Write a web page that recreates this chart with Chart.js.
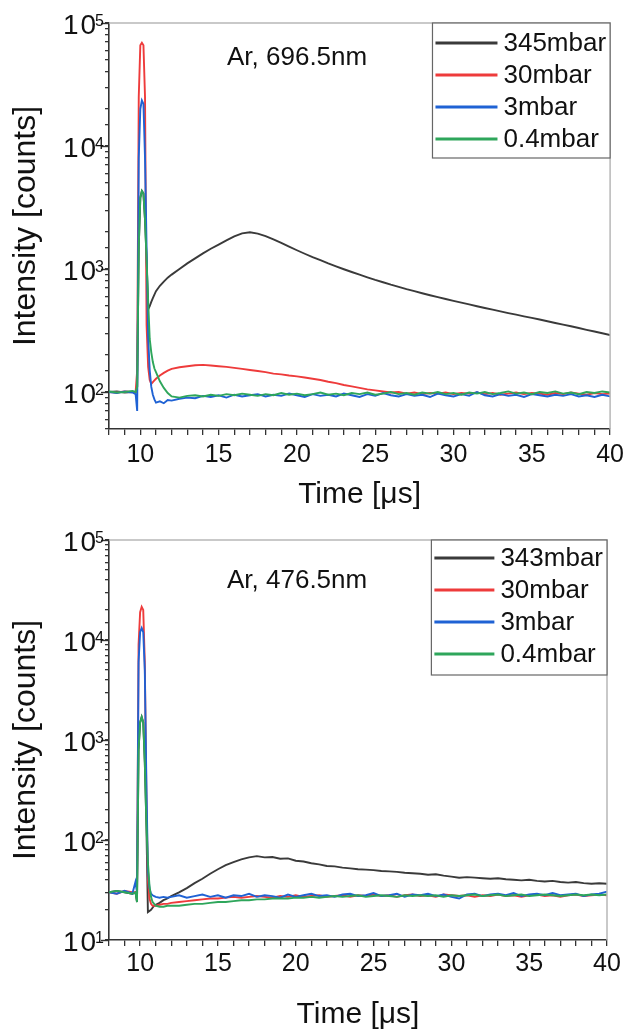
<!DOCTYPE html>
<html>
<head>
<meta charset="utf-8">
<title>Ar line intensity vs time</title>
<script src="https://cdn.jsdelivr.net/npm/chart.js@4.4.1/dist/chart.umd.min.js"></script>
<style>
  html, body { margin: 0; padding: 0; background: #fff; }
  body { width: 629px; height: 1031px; position: relative; overflow: hidden; }
  canvas { position: absolute; left: 0; }
  #top { top: 0; }
  #bottom { top: 515px; }
</style>
</head>
<body>
<canvas id="top" width="629" height="515"></canvas>
<canvas id="bottom" width="629" height="516"></canvas>
<script>
const FONT = "'Liberation Sans', Arial, Helvetica, sans-serif";
const INK = '#333333';

// time axis, in microseconds (shared by both panels)
const times = [8, 8.5, 9, 9.5, 9.7, 9.8, 9.9, 10, 10.1, 10.2, 10.3, 10.4, 10.5, 10.6, 10.7, 10.8, 10.9, 11, 11.25, 11.5, 11.75,
  12, 12.5, 13, 13.5, 14, 14.5, 15, 15.5, 16, 16.5, 17, 17.5, 18, 18.5, 19, 19.5, 20, 20.5, 21, 21.5,
  22, 22.5, 23, 23.5, 24, 24.5, 25, 25.5, 26, 26.5, 27, 27.5, 28, 28.5, 29, 29.5, 30, 30.5, 31, 31.5,
  32, 32.5, 33, 33.5, 34, 34.5, 35, 35.5, 36, 36.5, 37, 37.5, 38, 38.5, 39, 39.5, 40];

// upper panel: Ar 696.5 nm
const top345 = [100, 101, 99, 100, 100, 110, 1500, 3800, 4300, 4100, 2500, 1200, 470, 500, 540, 580, 620, 660, 730, 790, 850,
  900, 1000, 1110, 1220, 1340, 1460, 1580, 1710, 1840, 1950, 1990, 1940, 1850, 1740, 1630, 1520, 1420, 1330, 1250, 1180,
  1110, 1050, 995, 945, 900, 855, 815, 780, 745, 715, 685, 660, 635, 612, 590, 570, 550, 532, 515, 498,
  482, 467, 452, 438, 425, 412, 400, 388, 376, 364, 353, 342, 331, 320, 310, 300, 290];
const top30 = [100, 99, 101, 100, 100, 150, 25000, 66000, 69000, 66000, 25000, 350, 160, 125, 116, 120, 124, 128, 136, 143, 149,
  154, 159, 162, 165, 166, 164, 162, 160, 157, 154, 151, 148, 145, 141, 139, 136, 134, 131, 128, 125,
  121, 118, 114, 111, 108, 105, 103, 101, 99, 100, 97, 99, 96, 98, 97, 99, 96, 98, 97, 99,
  96, 98, 95, 97, 99, 96, 98, 97, 95, 98, 96, 99, 97, 95, 98, 96, 97];
const top3 = [100, 98, 101, 99, 96, 70, 8000, 20000, 23500, 22000, 8000, 1500, 280, 150, 110, 95, 87, 82, 84, 81, 86,
  85, 88, 90, 89, 93, 91, 94, 90, 95, 92, 94, 96, 92, 95, 93, 97, 94, 91, 96, 93,
  95, 92, 97, 94, 91, 96, 93, 98, 94, 92, 96, 93, 95, 91, 97, 94, 92, 96, 93, 100,
  94, 92, 96, 93, 95, 91, 96, 94, 92, 95, 93, 96, 92, 94, 91, 95, 92];
const top04 = [101, 99, 100, 102, 100, 110, 1500, 3800, 4300, 4100, 2500, 1200, 550, 270, 210, 175, 155, 145, 122, 108, 98,
  92, 90, 93, 94, 92, 95, 93, 96, 94, 97, 95, 93, 96, 94, 98, 95, 97, 94, 96, 99,
  95, 97, 94, 98, 96, 99, 95, 97, 100, 96, 98, 95, 99, 97, 100, 96, 98, 95, 99, 97,
  100, 96, 98, 101, 97, 99, 96, 100, 98, 101, 97, 99, 96, 100, 98, 101, 99];

// lower panel: Ar 476.5 nm
const bot343 = [30, 31, 30, 29, 30, 24, 800, 1500, 1700, 1500, 600, 150, 19, 19.5, 20, 21, 22, 22.5, 23.5, 25, 26,
  27.5, 30, 33, 37, 41, 46, 51, 56, 60, 64, 67, 69, 67, 67.5, 65, 65.5, 62, 61, 58.5, 57,
  55, 54.5, 53, 52, 51, 50.5, 50, 49, 48.5, 48, 47, 46.5, 46, 45, 45.5, 44, 43, 42, 42.5, 42,
  41.5, 41, 41.5, 40.5, 40, 39.5, 40, 39, 38.5, 39, 38, 37.5, 38, 37, 36.5, 37, 36.5];
const bot30 = [30, 29, 31, 30, 30, 30, 9000, 19000, 21500, 20000, 6000, 300, 40, 26, 23, 22, 22, 22, 22.5, 23, 23,
  23.5, 24, 24.5, 25, 25.5, 26, 26, 26.5, 27, 26.5, 27, 27.5, 27, 26.5, 27.5, 27, 28, 27, 27.5, 28,
  27, 27.5, 28, 27, 28, 27.5, 28.5, 27.5, 28, 27, 28, 28.5, 27.5, 28, 27, 28.5, 28, 27.5, 28, 27,
  28, 27.5, 28.5, 27.5, 28, 27, 28, 28.5, 27.5, 28, 27, 28, 28.5, 27.5, 28, 28.5, 28];
const bot3 = [30, 29, 31, 29, 38, 30, 6000, 12000, 13200, 12000, 5000, 400, 50, 33, 29, 28, 27.5, 27, 26.5, 27, 26.5,
  27, 28, 26.5, 27.5, 28.5, 27, 28, 26.5, 28, 27.5, 29, 27, 28, 27.5, 26.5, 28.5, 27, 28, 29, 27.5,
  28, 27, 28.5, 29, 27.5, 28, 29.5, 27.5, 28, 29, 27, 28.5, 28, 29, 27.5, 28.5, 27, 26, 28.5, 29,
  27.5, 28.5, 29, 28, 29.5, 27.5, 28.5, 29, 28, 29.5, 28, 28.5, 29, 27.5, 28.5, 29, 30.5];
const bot04 = [30, 31, 30, 29, 30, 24, 800, 1500, 1700, 1500, 600, 150, 60, 35, 27, 24, 23, 22, 21.5, 21.5, 22,
  22, 22, 22.5, 23, 23, 23.5, 24, 24, 24.5, 25, 25, 25.5, 25.5, 26, 26, 26, 26.5, 26.5, 27, 26.5,
  27, 27.5, 27, 27.5, 28, 27, 27.5, 28, 27.5, 27, 28, 27.5, 28, 27.5, 28, 27, 28, 27.5, 28, 28.5,
  27.5, 28, 28.5, 27.5, 28, 28.5, 27.5, 28, 28.5, 28, 27.5, 28, 28.5, 28, 28.5, 28, 28.5];

const colors = { black: '#3a3a3a', red: '#ee3b3b', blue: '#1f62d4', green: '#2ea65b' };

function isDecade(v) {
  const e = Math.log10(v);
  return Math.abs(e - Math.round(e)) < 1e-6;
}

// one trace; lower "order" is drawn on top (green ends up uppermost)
function series(label, values, color, order) {
  return {
    label: label,
    data: times.map((t, i) => ({ x: t, y: values[i] })),
    borderColor: color,
    backgroundColor: color,
    borderWidth: 1.9,
    pointRadius: 0,
    tension: 0,
    order: order
  };
}

// frame, decade ticks and labels, text note and boxed legend
function decorations(note, legend) {
  return {
    id: 'decorations',
    afterDraw(chart) {
      const ctx = chart.ctx;
      const a = chart.chartArea;
      const y = chart.scales.y;
      ctx.save();
      // light frame on top and right
      ctx.strokeStyle = '#b8b8b8';
      ctx.lineWidth = 1.5;
      ctx.beginPath();
      ctx.moveTo(a.left, a.top);
      ctx.lineTo(a.right, a.top);
      ctx.lineTo(a.right, a.bottom);
      ctx.stroke();
      // longer ticks and 10^n labels at the decades
      y.ticks.forEach(t => {
        if (!isDecade(t.value)) return;
        const p = Math.round(y.getPixelForValue(t.value)) + 0.5;
        ctx.strokeStyle = INK;
        ctx.lineWidth = 1.4;
        ctx.beginPath();
        ctx.moveTo(a.left - 8, p);
        ctx.lineTo(a.left, p);
        ctx.stroke();
        const exp = String(Math.round(Math.log10(t.value)));
        ctx.fillStyle = '#111';
        ctx.textBaseline = 'alphabetic';
        ctx.textAlign = 'left';
        ctx.font = '16px ' + FONT;
        const ew = ctx.measureText(exp).width;
        const ex = a.left - 5 - ew;
        ctx.fillText(exp, ex, p + 2);
        ctx.font = '28px ' + FONT;
        const w0 = ctx.measureText('0').width;
        const w1 = ctx.measureText('1').width;
        const zx = ex - w0 + 1;
        ctx.fillText('0', zx, p + 10);
        ctx.fillText('1', zx - w1 - 2, p + 10);
      });
      // the line name
      ctx.fillStyle = '#111';
      ctx.font = '26px ' + FONT;
      ctx.textAlign = 'left';
      ctx.textBaseline = 'middle';
      ctx.fillText(note.text, a.left + note.dx, a.top + note.dy);
      // legend box
      ctx.font = legend.size + 'px ' + FONT;
      const sets = chart.data.datasets;
      const textW = Math.max(...sets.map(d => ctx.measureText(d.label).width));
      const w = 3 + legend.line + 6 + textW + 4;
      const h = sets.length * legend.row + 7;
      const left = a.right - w;
      const top = a.top;
      ctx.fillStyle = '#fff';
      ctx.fillRect(left, top, w, h);
      ctx.strokeStyle = '#666';
      ctx.lineWidth = 1.2;
      ctx.strokeRect(left, top, w, h);
      sets.forEach((d, i) => {
        const cy = top + legend.first + i * legend.row;
        ctx.strokeStyle = d.borderColor;
        ctx.lineWidth = 3;
        ctx.beginPath();
        ctx.moveTo(left + 3, cy);
        ctx.lineTo(left + 3 + legend.line, cy);
        ctx.stroke();
        ctx.fillStyle = '#111';
        ctx.fillText(d.label, left + 3 + legend.line + 6, cy + 1);
      });
      ctx.restore();
    }
  };
}

function makeChart(id, o) {
  return new Chart(document.getElementById(id), {
    type: 'line',
    data: { datasets: o.datasets },
    options: {
      responsive: false,
      animation: false,
      devicePixelRatio: 1,
      layout: { padding: { top: o.padTop, right: o.padRight, left: 0, bottom: 0 } },
      plugins: { legend: { display: false }, tooltip: { enabled: false } },
      scales: {
        x: {
          type: 'linear', min: 8, max: 40,
          afterFit: s => { s.height = o.xHeight; },
          ticks: {
            stepSize: 1, autoSkip: false, maxRotation: 0, padding: o.xTickPad,
            color: '#111', font: { family: FONT, size: 25 },
            callback: v => (v >= 10 && v % 5 === 0) ? String(v) : ''
          },
          grid: { drawOnChartArea: false, tickLength: 6, color: INK, lineWidth: 1.3 },
          border: { color: INK, width: 1.6 },
          title: {
            display: true, text: 'Time [\u03bcs]', color: '#111',
            font: { family: FONT, size: 30, lineHeight: 1 },
            padding: { top: 0, bottom: o.xTitlePad }
          }
        },
        y: {
          type: 'logarithmic', min: o.yMin, max: 100000,
          afterFit: s => { s.width = 109; },
          ticks: { autoSkip: false, display: false },
          grid: { drawOnChartArea: false, tickLength: 4, color: INK, lineWidth: 1.3 },
          border: { color: INK, width: 1.6 },
          title: {
            display: true, text: 'Intensity [counts]', color: '#111',
            font: { family: FONT, size: 32, lineHeight: 1 },
            padding: { top: 10, bottom: 0 }
          }
        }
      }
    },
    plugins: [decorations(o.note, o.legend)]
  });
}

makeChart('top', {
  datasets: [
    series('345mbar', top345, colors.black, 4),
    series('30mbar', top30, colors.red, 3),
    series('3mbar', top3, colors.blue, 2),
    series('0.4mbar', top04, colors.green, 1)
  ],
  padTop: 23, padRight: 14, xHeight: 86, xTickPad: 5, xTitlePad: 5, yMin: 50,
  note: { text: 'Ar, 696.5nm', dx: 118, dy: 35 },
  legend: { size: 26, line: 62, row: 32, first: 20 }
});

makeChart('bottom', {
  datasets: [
    series('343mbar', bot343, colors.black, 4),
    series('30mbar', bot30, colors.red, 3),
    series('3mbar', bot3, colors.blue, 2),
    series('0.4mbar', bot04, colors.green, 1)
  ],
  padTop: 25, padRight: 22, xHeight: 91, xTickPad: 3, xTitlePad: 1, yMin: 10,
  note: { text: 'Ar, 476.5nm', dx: 118, dy: 41 },
  legend: { size: 26, line: 60, row: 32, first: 18 }
});
</script>
</body>
</html>
